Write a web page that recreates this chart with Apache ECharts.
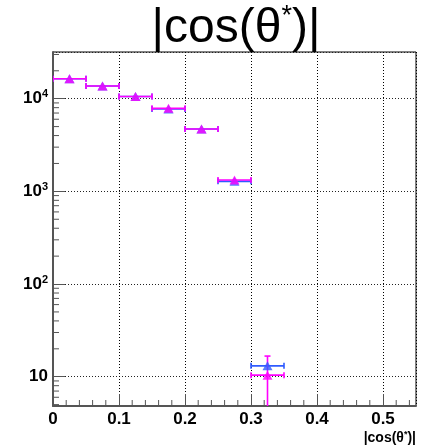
<!DOCTYPE html>
<html>
<head>
<meta charset="utf-8">
<script src="https://cdn.jsdelivr.net/npm/echarts@6/dist/echarts.min.js"></script>
<style>
  html, body { margin: 0; padding: 0; background: #ffffff; }
  #chart { width: 424px; height: 448px; }
</style>
</head>
<body>
<div id="chart"></div>
<script>
// |cos(theta*)| distribution, two samples, 0.05-wide bins
const binCenters   = [0.025, 0.075, 0.125, 0.175, 0.225, 0.275, 0.325];
const binHalfWidth = [0.025, 0.025, 0.025, 0.025, 0.025, 0.025, 0.025];

const magentaCounts = [16440, 13700, 10560, 7870, 4710, 1324, 10.4];
const magentaErrors = [130, 117, 103, 89, 69, 36, 6.3];

const blueCounts = [16440, 13700, 10560, 7740, 4710, 1282, 13.1];
const blueErrors = [130, 117, 103, 88, 69, 36, 1.2];

// axis ranges and tick positions
const xRange = [0, 0.55];
const yRange = [4.83, 31900];
const xMinorTicks = [0.02, 0.04, 0.06, 0.08, 0.12, 0.14, 0.16, 0.18, 0.22, 0.24, 0.26, 0.28,
                     0.32, 0.34, 0.36, 0.38, 0.42, 0.44, 0.46, 0.48, 0.52, 0.54];
const yMinorTicks = [5, 6, 7, 8, 9, 20, 30, 40, 50, 60, 70, 80, 90,
                     200, 300, 400, 500, 600, 700, 800, 900,
                     2000, 3000, 4000, 5000, 6000, 7000, 8000, 9000, 20000, 30000];

const titleText = '|cos(θ';
const axisTitleText = '|cos(θ';

const FONT = '"Liberation Sans", Arial, Helvetica, sans-serif';
const MAGENTA = '#ff00ff';
const BLUE = '#2f5bff';
const AXIS = '#555555';

function pointData(counts, errors) {
  return binCenters.map((x, i) => [x, counts[i], binHalfWidth[i], errors[i]]);
}

function errorBars(color) {
  return function (params, api) {
    const x = api.value(0), y = api.value(1), dx = api.value(2), dy = api.value(3);
    const c = api.coord([x, y]);
    const l = api.coord([x - dx, y]);
    const r = api.coord([x + dx, y]);
    const style = { stroke: color, lineWidth: 1.6 };
    const cap = 3;
    const children = [
      { type: 'line', shape: { x1: l[0], y1: c[1], x2: r[0], y2: c[1] }, style },
      { type: 'line', shape: { x1: l[0], y1: c[1] - cap, x2: l[0], y2: c[1] + cap }, style },
      { type: 'line', shape: { x1: r[0], y1: c[1] - cap, x2: r[0], y2: c[1] + cap }, style }
    ];
    const t = api.coord([x, y + dy]);
    if (c[1] - t[1] > 6) {
      const lo = y - dy > 0 ? api.coord([x, y - dy])[1] : c[1] + 200;
      children.push({ type: 'line', shape: { x1: c[0], y1: t[1], x2: c[0], y2: lo }, style });
      children.push({ type: 'line', shape: { x1: c[0] - cap, y1: t[1], x2: c[0] + cap, y2: t[1] }, style });
      children.push({ type: 'line', shape: { x1: c[0] - cap, y1: lo, x2: c[0] + cap, y2: lo }, style });
    }
    return { type: 'group', children };
  };
}

function yMinorTickItem(params, api) {
  const p = api.coord([xRange[0], api.value(1)]);
  return { type: 'line', shape: { x1: p[0], y1: p[1], x2: p[0] + 6, y2: p[1] },
           style: { stroke: AXIS, lineWidth: 1 } };
}

function xMinorTickItem(params, api) {
  const p = api.coord([api.value(0), yRange[0]]);
  return { type: 'line', shape: { x1: p[0], y1: p[1], x2: p[0], y2: p[1] - 6 },
           style: { stroke: AXIS, lineWidth: 1 } };
}

const chart = echarts.init(document.getElementById('chart'), null, { renderer: 'canvas' });

chart.setOption({
  animation: false,
  backgroundColor: '#ffffff',
  grid: {
    left: 53, right: 8, top: 52, bottom: 42,
    show: true, borderColor: '#000000', borderWidth: 1, backgroundColor: 'transparent'
  },
  xAxis: {
    type: 'value',
    min: xRange[0], max: xRange[1], interval: 0.1,
    axisLine: { show: true, onZero: false, lineStyle: { color: AXIS, width: 2 } },
    axisTick: { show: true, inside: true, length: 12, lineStyle: { color: AXIS, width: 1 } },
    axisLabel: {
      margin: 5, color: '#000', fontFamily: FONT, fontWeight: 'bold', fontSize: 17,
      showMaxLabel: false
    },
    splitLine: { show: true, lineStyle: { color: '#000', type: [1, 2], width: 1 } }
  },
  yAxis: {
    type: 'log', logBase: 10,
    min: yRange[0], max: yRange[1],
    axisLine: { show: true, lineStyle: { color: AXIS, width: 2 } },
    axisTick: { show: true, inside: true, length: 12, lineStyle: { color: AXIS, width: 1 } },
    axisLabel: {
      margin: 5, color: '#000', fontFamily: FONT, fontWeight: 'bold',
      showMinLabel: false, showMaxLabel: false,
      formatter: function (v) {
        const e = Math.round(Math.log10(v));
        if (e === 1) return '{b|10}';
        return '{b|10}{e|' + e + '}';
      },
      rich: {
        b: { fontFamily: FONT, fontWeight: 'bold', fontSize: 17, lineHeight: 20 },
        e: { fontFamily: FONT, fontWeight: 'bold', fontSize: 11, lineHeight: 11, verticalAlign: 'top' }
      }
    },
    splitLine: { show: true, lineStyle: { color: '#222', type: [1, 2], width: 1 } }
  },
  graphic: [
    {
      type: 'text', x: 236, y: 55, z: 10,
      style: {
        text: '{m|' + titleText + '}{s|*}{m|)|}',
        textAlign: 'center', textVerticalAlign: 'bottom',
        rich: {
          m: { fontFamily: FONT, fontSize: 48, lineHeight: 52, fill: '#000' },
          s: { fontFamily: FONT, fontSize: 27, lineHeight: 28, verticalAlign: 'top', fill: '#000' }
        }
      }
    },
    {
      type: 'text', x: 416, y: 446, z: 10,
      style: {
        text: '{m|' + axisTitleText + '}{s|*}{m|)|}',
        textAlign: 'right', textVerticalAlign: 'bottom',
        rich: {
          m: { fontFamily: FONT, fontWeight: 'bold', fontSize: 14, lineHeight: 16, fill: '#000' },
          s: { fontFamily: FONT, fontWeight: 'bold', fontSize: 9, lineHeight: 9, verticalAlign: 'top', fill: '#000' }
        }
      }
    }
  ],
  series: [
    { type: 'custom', name: 'yMinor', renderItem: yMinorTickItem, clip: false, silent: true,
      data: yMinorTicks.map(v => [xRange[0], v]) },
    { type: 'custom', name: 'xMinor', renderItem: xMinorTickItem, clip: false, silent: true,
      data: xMinorTicks.map(v => [v, yRange[0]]) },
    { type: 'custom', name: 'blueErr', renderItem: errorBars(BLUE), clip: true, silent: true,
      data: pointData(blueCounts, blueErrors) },
    { type: 'scatter', name: 'blue', symbol: 'triangle', symbolSize: [10, 9],
      itemStyle: { color: BLUE }, silent: true,
      data: pointData(blueCounts, blueErrors).map(d => [d[0], d[1]]) },
    { type: 'custom', name: 'magentaErr', renderItem: errorBars(MAGENTA), clip: true, silent: true,
      data: pointData(magentaCounts, magentaErrors) },
    { type: 'scatter', name: 'magenta', symbol: 'triangle', symbolSize: [10, 9],
      itemStyle: { color: MAGENTA }, silent: true,
      data: pointData(magentaCounts, magentaErrors).map(d => [d[0], d[1]]) }
  ]
});
</script>
</body>
</html>
